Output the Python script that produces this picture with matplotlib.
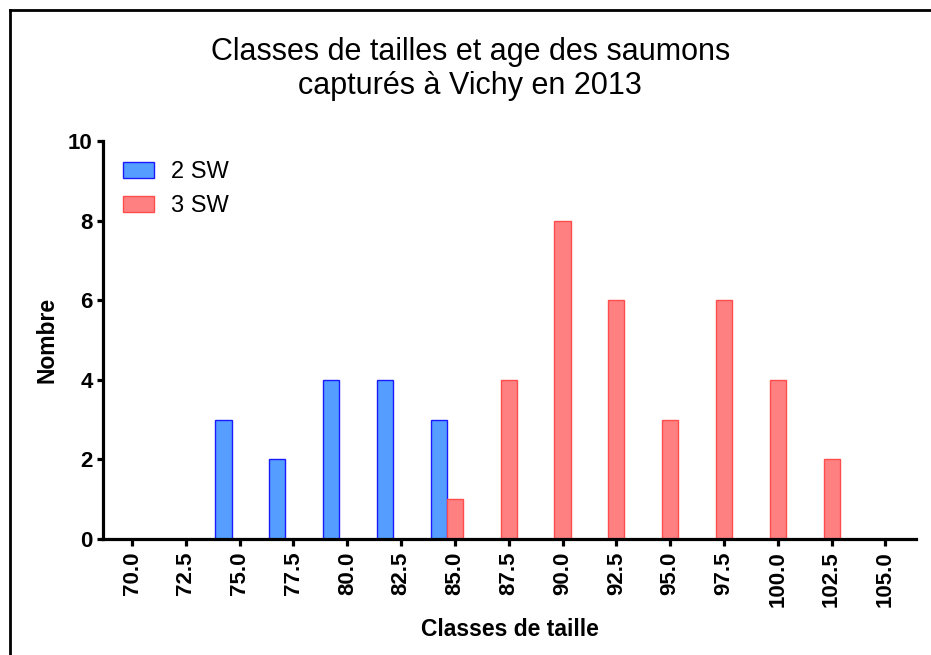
import matplotlib.pyplot as plt
from matplotlib.lines import Line2D
import numpy as np

plt.rcParams['font.family'] = ['Liberation Sans', 'DejaVu Sans']

classes = ['70.0', '72.5', '75.0', '77.5', '80.0', '82.5', '85.0', '87.5',
           '90.0', '92.5', '95.0', '97.5', '100.0', '102.5', '105.0']
sw2 = [0, 0, 3, 2, 4, 4, 3, 0, 0, 0, 0, 0, 0, 0, 0]
sw3 = [0, 0, 0, 0, 0, 0, 1, 4, 8, 6, 3, 6, 4, 2, 0]

fig = plt.figure(figsize=(9.31, 6.55), dpi=100)
ax = fig.add_axes([0.1106, 0.177, 0.8734, 0.6077])

x = np.arange(len(classes))
w = 0.3
ax.bar(x - w, sw2, w, color='#559dff', edgecolor='#1a1aff', linewidth=1, label='2 SW')
ax.bar(x, sw3, w, color='#ff8080', edgecolor='#ff4d4d', linewidth=1, label='3 SW')

ax.set_xlim(-0.54, 14.57)
ax.set_ylim(0, 10)
ax.set_yticks([0, 2, 4, 6, 8, 10])
ax.set_xticks(x)
ax.set_xticklabels(classes, rotation=90, fontweight='bold', fontsize=16)
for lab in ax.get_yticklabels():
    lab.set_fontweight('bold')
    lab.set_fontsize(16)

for s in ['top', 'right']:
    ax.spines[s].set_visible(False)
for s in ['left', 'bottom']:
    ax.spines[s].set_linewidth(2.3)
ax.tick_params(axis='y', width=2.3, length=4.3, pad=3)
ax.tick_params(axis='x', width=2.3, length=5, pad=4)

ax.set_xlabel('Classes de taille', fontsize=16.5, fontweight='bold', labelpad=8)
ax.set_ylabel('Nombre', fontsize=16.5, fontweight='bold', labelpad=7)

ax.legend(loc='upper left', bbox_to_anchor=(0.0246, 0.95), frameon=False, fontsize=17,
          borderpad=0, borderaxespad=0, handlelength=1.31, handleheight=0.68,
          handletextpad=0.72, labelspacing=0.53)

fig.text(0.505, 0.895, 'Classes de tailles et age des saumons\ncapturés à Vichy en 2013',
         ha='center', va='center', fontsize=22, linespacing=1.19)

# cadre
fig.add_artist(Line2D([0.0108, 0.0108], [0, 0.985], transform=fig.transFigure, color='black', linewidth=2))
fig.add_artist(Line2D([0.0108, 1.0], [0.985, 0.985], transform=fig.transFigure, color='black', linewidth=2))

fig.savefig('out.png', dpi=100)
